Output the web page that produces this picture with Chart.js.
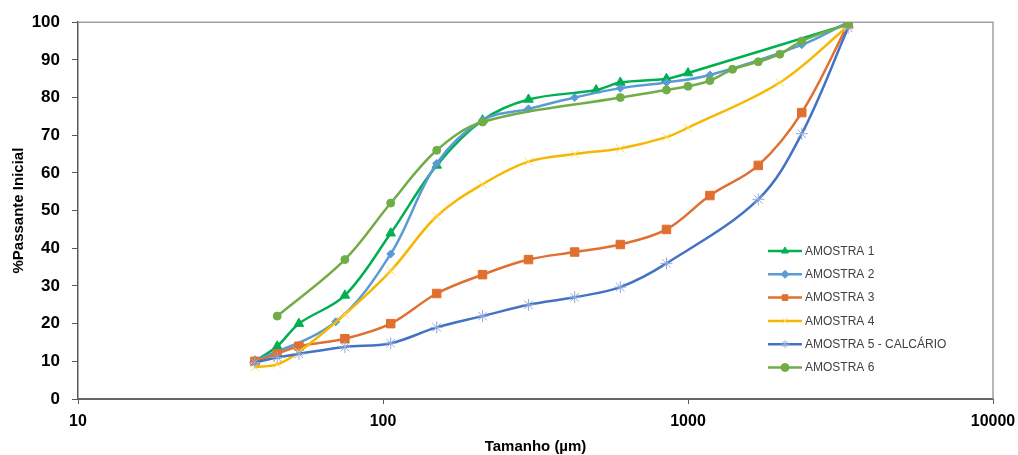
<!DOCTYPE html>
<html>
<head>
<meta charset="utf-8">
<script src="https://cdn.jsdelivr.net/npm/chart.js@4.4.1/dist/chart.umd.min.js"></script>
<style>
  html, body { margin: 0; padding: 0; background: #fff; }
</style>
</head>
<body>
<canvas id="chart" width="1018" height="455"></canvas>
<script>
// sieve sizes (µm) and % passing for each sample
const labels = ['AMOSTRA 1', 'AMOSTRA 2', 'AMOSTRA 3', 'AMOSTRA 4', 'AMOSTRA 5 - CALCÁRIO', 'AMOSTRA 6'];

const size1 = [38, 45, 53, 75, 106, 150, 212, 300, 500, 600, 850, 1000, 3350];
const pass1 = [10, 14, 20, 27.5, 44, 62, 74, 79.5, 82, 84, 85, 86.5, 99.5];

const size2 = [38, 70, 106, 150, 212, 300, 425, 600, 850, 1180, 2360, 3350];
const pass2 = [10, 20.5, 38.5, 62.5, 74, 77, 80, 82.5, 84, 86, 94, 100];

const size3 = [38, 45, 53, 75, 106, 150, 212, 300, 425, 600, 850, 1180, 1700, 2360, 3350];
const pass3 = [10, 12, 14, 16, 20, 28, 33, 37, 39, 41, 45, 54, 62, 76, 99.5];

const size4 = [38, 45, 53, 75, 106, 150, 212, 300, 425, 600, 850, 1000, 2000, 3350];
const pass4 = [8.5, 9.2, 12.5, 22.5, 34, 48.5, 57, 63, 65, 66.5, 69.5, 72, 84, 99];

const size5 = [38, 45, 53, 75, 106, 150, 212, 300, 425, 600, 850, 1700, 2360, 3350];
const pass5 = [9.7, 11, 12, 13.8, 14.8, 19, 22, 25, 27, 29.7, 36, 53, 70.4, 98.5];

const size6 = [45, 75, 106, 150, 212, 600, 850, 1000, 1180, 1400, 1700, 2000, 2360, 3350];
const pass6 = [22, 37, 52, 66, 73.5, 80, 82, 83, 84.5, 87.5, 89.5, 91.5, 95, 99.5];

const xTicks = [10, 100, 1000, 10000];

const toPoints = (xs, ys) => xs.map((x, i) => ({ x: x, y: ys[i] }));

const series = [
  { data: toPoints(size1, pass1), color: '#00b050', marker: 'triangle', r: 5.5, fill: '#00b050' },
  { data: toPoints(size2, pass2), color: '#5b9bd5', marker: 'rectRot', r: 4, fill: '#5b9bd5' },
  { data: toPoints(size3, pass3), color: '#e07030', marker: 'rect', r: 6, fill: '#e07030' },
  { data: toPoints(size4, pass4), color: '#f5b800', marker: 'crossRot', r: 6, fill: '#ffd966' },
  { data: toPoints(size5, pass5), color: '#4472c4', marker: 'star', r: 6, fill: '#8faadc' },
  { data: toPoints(size6, pass6), color: '#70ad47', marker: 'circle', r: 4, fill: '#70ad47' }
];

const datasets = series.map((s, i) => ({
  label: labels[i],
  data: s.data,
  borderColor: s.color,
  borderWidth: 2.5,
  tension: 0.35,
  pointStyle: s.marker,
  pointRadius: s.r,
  pointBackgroundColor: s.fill,
  pointBorderColor: s.fill,
  pointBorderWidth: 1,
  order: labels.length - i
}));

// plot frame: light top and right border
const framePlugin = {
  id: 'frame',
  beforeDatasetsDraw(chart) {
    const { ctx, chartArea: a } = chart;
    ctx.save();
    ctx.strokeStyle = '#a0a0a0';
    ctx.lineWidth = 1.5;
    ctx.beginPath();
    ctx.moveTo(a.left, a.top);
    ctx.lineTo(a.right, a.top);
    ctx.lineTo(a.right, a.bottom);
    ctx.stroke();
    ctx.restore();
  }
};

// legend drawn inside the plot, bottom right
const legendPlugin = {
  id: 'insideLegend',
  afterDraw(chart) {
    const ctx = chart.ctx;
    const x0 = 768, y0 = 251, gap = 23.3;
    ctx.save();
    chart.data.datasets.forEach((ds, i) => {
      const y = y0 + i * gap;
      ctx.strokeStyle = ds.borderColor;
      ctx.lineWidth = 2.5;
      ctx.beginPath();
      ctx.moveTo(x0, y);
      ctx.lineTo(x0 + 34, y);
      ctx.stroke();
      ctx.fillStyle = ds.pointBackgroundColor;
      ctx.strokeStyle = ds.pointBorderColor;
      ctx.lineWidth = 1;
      Chart.helpers.drawPoint(ctx, {
        pointStyle: ds.pointStyle,
        radius: Math.min(ds.pointRadius, 4),
        rotation: 0,
        borderWidth: 1
      }, x0 + 17, y);
      ctx.fillStyle = '#404040';
      ctx.font = '12px "Liberation Sans", Arial, sans-serif';
      ctx.textBaseline = 'middle';
      ctx.textAlign = 'left';
      ctx.fillText(ds.label, x0 + 37, y + 0.5);
    });
    ctx.restore();
  }
};

new Chart(document.getElementById('chart'), {
  type: 'line',
  data: { datasets: datasets },
  options: {
    responsive: false,
    animation: false,
    layout: { padding: { top: 20, right: 25, left: 0, bottom: 0 } },
    plugins: {
      legend: { display: false },
      tooltip: { enabled: false }
    },
    scales: {
      x: {
        type: 'logarithmic',
        min: 10,
        max: 10000,
        afterBuildTicks: (axis) => { axis.ticks = xTicks.map(v => ({ value: v })); },
        afterFit: (scale) => {
          scale.height = 56;
          scale.paddingLeft = 0;
          scale.paddingRight = 0;
        },
        grid: { drawOnChartArea: false, drawTicks: true, tickLength: 5, color: '#595959' },
        border: { color: '#666666', width: 2 },
        ticks: {
          color: '#000',
          padding: 8,
          maxRotation: 0,
          autoSkip: false,
          font: { family: '"Liberation Sans", Arial, sans-serif', size: 16, weight: 'bold' },
          callback: (v) => String(v)
        },
        title: {
          display: true,
          text: 'Tamanho (µm)',
          color: '#000',
          padding: { top: 0, bottom: 1 },
          font: { family: '"Liberation Sans", Arial, sans-serif', size: 15, weight: 'bold', lineHeight: 1 }
        }
      },
      y: {
        min: 0,
        max: 100,
        afterFit: (scale) => { scale.width = 78; },
        grid: { drawOnChartArea: false, drawTicks: true, tickLength: 6, color: '#595959' },
        border: { color: '#595959', width: 1.5 },
        ticks: {
          stepSize: 10,
          color: '#000',
          padding: 12,
          font: { family: '"Liberation Sans", Arial, sans-serif', size: 17, weight: 'bold' }
        },
        title: {
          display: true,
          text: '%Passante Inicial',
          color: '#000',
          padding: { top: 10, bottom: 0 },
          font: { family: '"Liberation Sans", Arial, sans-serif', size: 15, weight: 'bold', lineHeight: 1.2 }
        }
      }
    }
  },
  plugins: [framePlugin, legendPlugin]
});
</script>
</body>
</html>
